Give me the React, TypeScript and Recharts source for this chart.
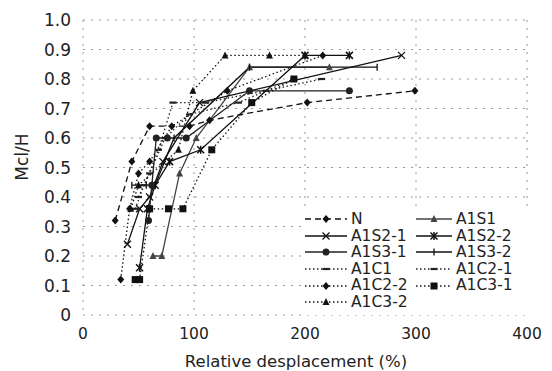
import React from 'react';
import { LineChart, Line, XAxis, YAxis, CartesianGrid, Label } from 'recharts';

type Pt = { x: number; y: number };
const pts = (a: number[][]): Pt[] => a.map(([x, y]) => ({ x, y }));

// values (load steps of 0.04)
const seriesN = pts([[29, 0.32], [44, 0.52], [60, 0.64], [96, 0.64], [114, 0.66], [202, 0.72], [299, 0.76]]);
const seriesA1S1 = pts([[63, 0.2], [71, 0.2], [87, 0.48], [102, 0.6], [150, 0.84], [222, 0.84]]);
const seriesA1S2_1 = pts([[40, 0.24], [51, 0.36], [60, 0.4], [72, 0.52], [105, 0.72], [287, 0.88]]);
const seriesA1S2_2 = pts([[51, 0.16], [58, 0.36], [65, 0.44], [78, 0.52], [106, 0.56], [200, 0.88], [240, 0.88]]);
const seriesA1S3_1 = pts([[59, 0.32], [62, 0.44], [66, 0.6], [76, 0.6], [93, 0.6], [150, 0.76], [240, 0.76]]);
const seriesA1S3_2 = pts([[44, 0.44], [50, 0.44], [57, 0.44], [65, 0.44], [82, 0.6], [150, 0.84], [265, 0.84]]);
const seriesA1C1 = pts([[47, 0.36], [55, 0.44], [68, 0.56], [81, 0.72], [110, 0.72], [165, 0.76], [215, 0.8]]);
const seriesA1C2_1 = pts([[50, 0.4], [60, 0.48], [74, 0.6], [96, 0.68], [140, 0.72], [190, 0.8]]);
const seriesA1C2_2 = pts([[34, 0.12], [42, 0.36], [50, 0.48], [60, 0.52], [80, 0.64], [130, 0.76], [216, 0.88]]);
const seriesA1C3_1 = pts([[47, 0.12], [51, 0.12], [60, 0.36], [77, 0.36], [90, 0.36], [116, 0.56], [152, 0.72], [190, 0.8]]);
const seriesA1C3_2 = pts([[43, 0.36], [50, 0.44], [86, 0.56], [99, 0.76], [128, 0.88], [168, 0.88], [200, 0.88]]);

const xTicks = [0, 100, 200, 300, 400];
const yTicks = [0, 0.1, 0.2, 0.3, 0.4, 0.5, 0.6, 0.7, 0.8, 0.9, 1.0];

type Shape = 'diamond' | 'triangle' | 'x' | 'asterisk' | 'circle' | 'plus' | 'dash' | 'square';
type Dash = 'solid' | 'dashed' | 'dotted';

const series: { name: string; data: Pt[]; shape: Shape; dash: Dash; color: string }[] = [
  { name: 'N', data: seriesN, shape: 'diamond', dash: 'dashed', color: '#111' },
  { name: 'A1S1', data: seriesA1S1, shape: 'triangle', dash: 'solid', color: '#444' },
  { name: 'A1S2-1', data: seriesA1S2_1, shape: 'x', dash: 'solid', color: '#111' },
  { name: 'A1S2-2', data: seriesA1S2_2, shape: 'asterisk', dash: 'solid', color: '#111' },
  { name: 'A1S3-1', data: seriesA1S3_1, shape: 'circle', dash: 'solid', color: '#222' },
  { name: 'A1S3-2', data: seriesA1S3_2, shape: 'plus', dash: 'solid', color: '#111' },
  { name: 'A1C1', data: seriesA1C1, shape: 'dash', dash: 'dotted', color: '#222' },
  { name: 'A1C2-1', data: seriesA1C2_1, shape: 'dash', dash: 'dotted', color: '#222' },
  { name: 'A1C2-2', data: seriesA1C2_2, shape: 'diamond', dash: 'dotted', color: '#111' },
  { name: 'A1C3-1', data: seriesA1C3_1, shape: 'square', dash: 'dotted', color: '#111' },
  { name: 'A1C3-2', data: seriesA1C3_2, shape: 'triangle', dash: 'dotted', color: '#111' },
];

const dashArray = (d: Dash) => (d === 'dashed' ? '6 4' : d === 'dotted' ? '1.5 2.5' : undefined);

const Marker = ({ shape, cx, cy, color }: { shape: Shape; cx: number; cy: number; color: string }) => {
  const s = 3.5;
  switch (shape) {
    case 'diamond':
      return <polygon points={`${cx},${cy - s - 0.5} ${cx + s},${cy} ${cx},${cy + s + 0.5} ${cx - s},${cy}`} fill={color} />;
    case 'triangle':
      return <polygon points={`${cx},${cy - s - 0.5} ${cx + s},${cy + s - 0.5} ${cx - s},${cy + s - 0.5}`} fill={color} />;
    case 'x':
      return (
        <g stroke={color} strokeWidth={1.3}>
          <line x1={cx - s} y1={cy - s} x2={cx + s} y2={cy + s} />
          <line x1={cx - s} y1={cy + s} x2={cx + s} y2={cy - s} />
        </g>
      );
    case 'asterisk':
      return (
        <g stroke={color} strokeWidth={1.5}>
          <line x1={cx - s} y1={cy - s} x2={cx + s} y2={cy + s} />
          <line x1={cx - s} y1={cy + s} x2={cx + s} y2={cy - s} />
          <line x1={cx} y1={cy - s - 0.5} x2={cx} y2={cy + s + 0.5} />
        </g>
      );
    case 'circle':
      return <circle cx={cx} cy={cy} r={s} fill={color} />;
    case 'plus':
      return <line x1={cx} y1={cy - s} x2={cx} y2={cy + s} stroke={color} strokeWidth={1.3} />;
    case 'dash':
      return <line x1={cx - s} y1={cy} x2={cx + s} y2={cy} stroke={color} strokeWidth={2.2} />;
    case 'square':
      return <rect x={cx - s} y={cy - s} width={2 * s} height={2 * s} fill={color} />;
  }
  return null;
};

const LegendBox = () => (
  <div
    style={{
      position: 'absolute',
      left: 303,
      top: 209,
      padding: '2px 2px 4px 2px',
      background: '#fff',
      display: 'grid',
      gridTemplateColumns: '111px 118px',
      gridAutoRows: '16.6px',
      fontSize: 15.5,
      color: '#222',
      lineHeight: '16.6px',
    }}
  >
    {series.map((s, i) => {
      const w = i % 2 === 0 ? 42 : 36;
      return (
        <div key={s.name} style={{ display: 'flex', alignItems: 'center', whiteSpace: 'nowrap' }}>
          <svg width={w} height={12} style={{ marginRight: 4 }}>
            <line x1={0} y1={6} x2={w} y2={6} stroke={s.color} strokeWidth={1.3} strokeDasharray={dashArray(s.dash)} />
            <Marker shape={s.shape} cx={w / 2} cy={6} color={s.color} />
          </svg>
          <span>{s.name}</span>
        </div>
      );
    })}
  </div>
);

export default function App() {
  return (
    <div style={{ position: 'absolute', left: 0, top: 0, width: 552, height: 371, fontFamily: '"DejaVu Sans", sans-serif', background: '#fff' }}>
      <LineChart width={552} height={371} margin={{ top: 20, right: 25, bottom: 0, left: 0 }}>
        <CartesianGrid stroke="#999" strokeDasharray="2 6" />
        <XAxis
          type="number"
          dataKey="x"
          domain={[0, 400]}
          ticks={xTicks}
          interval={0}
          axisLine={false}
          tickLine={false}
          tickSize={0}
          tickMargin={13}
          height={56}
          tick={{ fill: '#222', fontSize: 15.5 }}
        >
          <Label
            content={() => (
              <text x={296} y={367} textAnchor="middle" fill="#222" fontSize={16.5}>
                Relative desplacement (%)
              </text>
            )}
          />
        </XAxis>
        <YAxis
          type="number"
          domain={[0, 1]}
          ticks={yTicks}
          interval={0}
          axisLine={false}
          tickLine={false}
          tickSize={0}
          tickMargin={12}
          width={83}
          tickFormatter={(v: number) => (v === 0 ? '0' : v.toFixed(1))}
          tick={{ fill: '#222', fontSize: 17 }}
        >
          <Label
            content={() => (
              <text x={28} y={157} transform="rotate(-90 28 157)" textAnchor="middle" fill="#222" fontSize={17}>
                Mcl/H
              </text>
            )}
          />
        </YAxis>
        {series.map((s) => (
          <Line
            key={s.name}
            name={s.name}
            data={s.data}
            dataKey="y"
            type="linear"
            stroke={s.color}
            strokeWidth={1.3}
            strokeDasharray={dashArray(s.dash)}
            isAnimationActive={false}
            dot={(p: any) => <Marker key={`${s.name}-${p.index}`} shape={s.shape} cx={p.cx} cy={p.cy} color={s.color} />}
            activeDot={false}
          />
        ))}
      </LineChart>
      <LegendBox />
    </div>
  );
}
